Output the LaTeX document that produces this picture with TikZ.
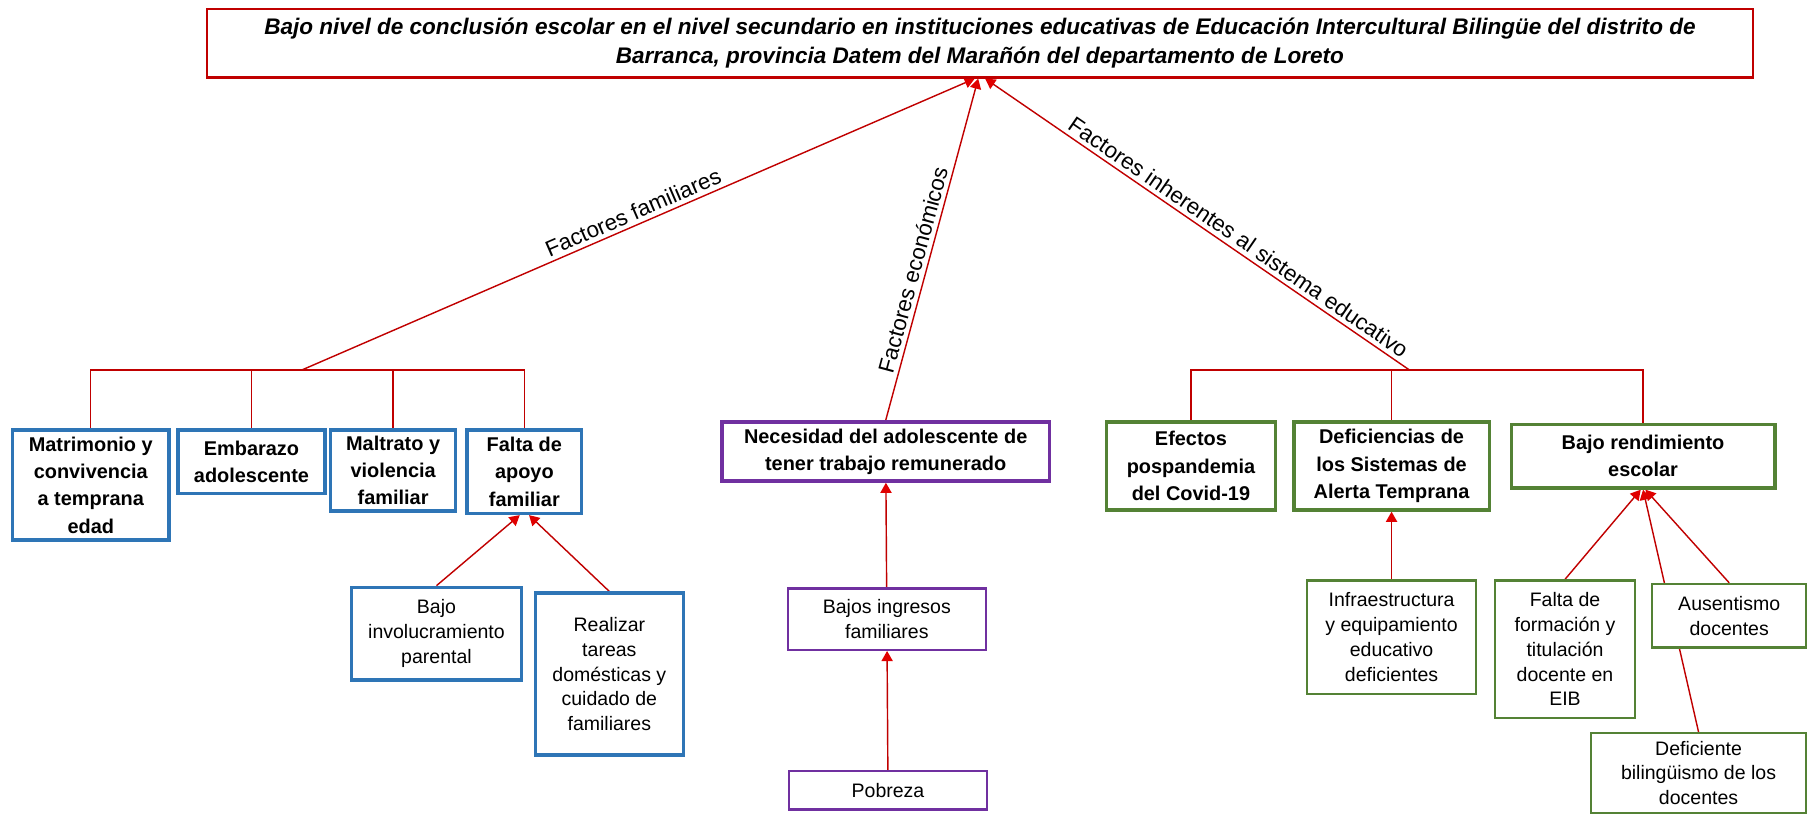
\documentclass[tikz,border=0pt]{standalone}
\usepackage{fontspec}
\setmainfont{Liberation Sans}
\usetikzlibrary{arrows.meta, positioning, backgrounds}

\definecolor{probred}{HTML}{C00000}
\definecolor{tipred}{HTML}{E00000}
\definecolor{famblue}{HTML}{2E75B6}
\definecolor{ecopurple}{HTML}{7030A0}
\definecolor{edugreen}{HTML}{548235}

\begin{document}
\begin{tikzpicture}[
    box/.style={
        rectangle, draw, fill=white, align=center, inner sep=2pt
    },
    head/.style={
        box, line width=1.7pt,
        font=\bfseries\fontsize{9.8}{13.4}\selectfont
    },
    cause/.style={
        box, line width=1.1pt,
        font=\fontsize{9.6}{12.2}\selectfont
    },
    problem/.style={
        rectangle, draw=probred, line width=1.1pt, align=center,
        font=\bfseries\itshape\fontsize{11.1}{14.2}\selectfont
    },
    famhead/.style={head, draw=famblue},
    famcause/.style={cause, draw=famblue, line width=1.7pt},
    ecohead/.style={head, draw=ecopurple},
    ecocause/.style={cause, draw=ecopurple},
    eduhead/.style={head, draw=edugreen},
    educause/.style={cause, draw=edugreen},
    link/.style={draw=probred, line width=0.7pt},
    >={Triangle[length=5pt, width=5.5pt, color=tipred]},
    lbl/.style={font=\fontsize{11}{13}\selectfont, sloped, above=1pt, inner sep=1pt}
]

\useasboundingbox (0,0) rectangle (31.36,-14.1);

\node[problem, minimum width=26.74cm, minimum height=1.18cm] (problem) at (16.95,-0.75)
    {Bajo nivel de conclusión escolar en el nivel secundario en instituciones educativas de Educación Intercultural Bilingüe del distrito de\\Barranca, provincia Datem del Marañón del departamento de Loreto};

\node[famhead, minimum width=2.70cm, minimum height=1.90cm] (matrimonio) at (1.57,-8.39) {Matrimonio y\\convivencia\\a temprana\\edad};
\node[famhead, minimum width=2.54cm, minimum height=1.10cm] (embarazo)   at (4.35,-7.99) {Embarazo\\adolescente};
\node[famhead, minimum width=2.16cm, minimum height=1.40cm] (maltrato)   at (6.80,-8.14) {Maltrato y\\violencia\\familiar};
\node[famhead, minimum width=1.98cm, minimum height=1.44cm] (apoyo)      at (9.07,-8.16) {Falta de\\apoyo\\familiar};
\node[famcause, minimum width=2.94cm, minimum height=1.60cm] (involucra) at (7.55,-10.96) {Bajo\\involucramiento\\parental};
\node[famcause, minimum width=2.56cm, minimum height=2.80cm] (tareas)    at (10.54,-11.66) {Realizar\\tareas\\domésticas y\\cuidado de\\familiares};

\node[ecohead, minimum width=5.66cm, minimum height=1.02cm] (necesidad) at (15.32,-7.81) {Necesidad del adolescente de\\tener trabajo remunerado};
\node[ecocause, minimum width=3.42cm, minimum height=1.06cm] (ingresos) at (15.34,-10.71) {Bajos ingresos\\familiares};
\node[ecocause, minimum width=3.42cm, minimum height=0.66cm] (pobreza)  at (15.36,-13.67) {Pobreza};

\node[eduhead, minimum width=2.92cm, minimum height=1.52cm] (pospandemia) at (20.60,-8.06) {Efectos\\pospandemia\\del Covid-19};
\node[eduhead, minimum width=3.38cm, minimum height=1.52cm] (alerta)      at (24.07,-8.06) {Deficiencias de\\los Sistemas de\\Alerta Temprana};
\node[eduhead, minimum width=4.56cm, minimum height=1.10cm] (rendimiento) at (28.42,-7.89) {Bajo rendimiento\\escolar};
\node[educause, minimum width=2.92cm, minimum height=1.96cm] (infra)       at (24.07,-11.02) {Infraestructura\\y equipamiento\\educativo\\deficientes};
\node[educause, minimum width=2.42cm, minimum height=2.38cm] (formacion)   at (27.07,-11.23) {Falta de\\formación y\\titulación\\docente en\\EIB};
\node[educause, minimum width=2.66cm, minimum height=1.10cm] (ausentismo)  at (29.91,-10.65) {Ausentismo\\docentes};
\node[educause, minimum width=3.72cm, minimum height=1.38cm] (bilinguismo) at (29.38,-13.37) {Deficiente\\bilingüismo de los\\docentes};

\coordinate (famjoin) at (5.22,-6.40);
\coordinate (edujoin) at (24.38,-6.40);

\begin{scope}[on background layer]
\draw[link, ->] (famjoin) -- node[lbl, pos=0.5] {Factores familiares} ([xshift=-0.09cm]problem.south);
\draw[link, ->] (necesidad.north) -- node[lbl, pos=0.43] {Factores económicos} ([xshift=-0.03cm]problem.south);
\draw[link, ->] (edujoin) -- node[lbl, pos=0.42] {Factores inherentes al sistema educativo} ([xshift=0.09cm]problem.south);

\draw[link] (matrimonio.north) |- (famjoin) -| (apoyo.north);
\draw[link] (embarazo.north) -- (embarazo.north |- famjoin);
\draw[link] (maltrato.north) -- (maltrato.north |- famjoin);
\draw[link] (pospandemia.north) |- (edujoin) -| (rendimiento.north);
\draw[link] (alerta.north) -- (alerta.north |- edujoin);

\draw[link, ->] (involucra.north) -- ([xshift=-0.08cm]apoyo.south);
\draw[link, ->] (tareas.north) -- ([xshift=0.08cm]apoyo.south);
\draw[link, ->] (ingresos) -- (necesidad);
\draw[link, ->] (pobreza) -- (ingresos);
\draw[link, ->] (infra) -- (alerta);
\draw[link, ->] (formacion.north) -- ([xshift=-0.04cm]rendimiento.south);
\draw[link, ->] (bilinguismo.north) -- (rendimiento.south);
\draw[link, ->] (ausentismo.north) -- ([xshift=0.04cm]rendimiento.south);
\end{scope}

\end{tikzpicture}
\end{document}
